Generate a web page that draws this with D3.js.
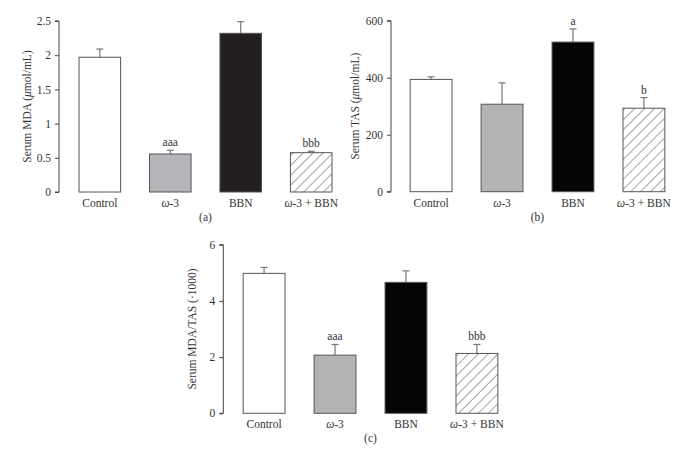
<!DOCTYPE html>
<html><head><meta charset="utf-8">
<script src="https://cdn.jsdelivr.net/npm/d3@7"></script>
<style>body{margin:0;background:#fff}svg{display:block}text{font-family:"Liberation Serif","DejaVu Serif",serif;fill:#333}</style>
</head><body>
<svg id="c" width="693" height="458"></svg>
<script>
const categories = ["Control", "ω-3", "BBN", "ω-3 + BBN"];
const mdaValues = [1.97, 0.555, 2.32, 0.575];
const mdaErrors = [2.09, 0.61, 2.49, 0.595];
const mdaMarks = ["", "aaa", "", "bbb"];
const mdaTicks = [0, 0.5, 1, 1.5, 2, 2.5];
const tasValues = [394, 307, 525, 293];
const tasErrors = [403, 382, 571, 330];
const tasMarks = ["", "", "a", "b"];
const tasTicks = [0, 200, 400, 600];
const ratioValues = [4.98, 2.07, 4.66, 2.13];
const ratioErrors = [5.19, 2.45, 5.07, 2.45];
const ratioMarks = ["", "aaa", "", "bbb"];
const ratioTicks = [0, 2, 4, 6];

const svg = d3.select("#c");
const defs = svg.append("defs");
const pat = defs.append("pattern").attr("id","hatch").attr("patternUnits","userSpaceOnUse")
  .attr("width",7).attr("height",7).attr("patternTransform","rotate(45)");
pat.append("rect").attr("width",7).attr("height",7).attr("fill","#fff");
pat.append("line").attr("x1",0).attr("y1",0).attr("x2",0).attr("y2",7).attr("stroke","#4a4a4a").attr("stroke-width",1);

function panel(o){
  const g = svg.append("g");
  const y = d3.scaleLinear().domain([0, o.max]).range([o.y0, o.y1]);
  const x = d3.scaleBand().domain(categories).range([o.xl, o.xr]).paddingInner(0.41).paddingOuter(0.27);
  const ax = g.append("g").attr("transform",`translate(${o.ax},0)`)
    .call(d3.axisLeft(y).tickValues(o.ticks).tickSize(4).tickPadding(4).tickFormat(d=>String(d)));
  ax.select(".domain").attr("stroke","#444").attr("d",`M-4,${o.y1}H0V${o.y0}H-4`);
  ax.selectAll(".tick line").attr("stroke","#444");
  ax.selectAll(".tick text").attr("font-size",11.5).attr("fill","#333").attr("font-family","Liberation Serif, serif");
  const fills = ["#ffffff", o.gray, o.black, "url(#hatch)"];
  g.selectAll(".err").data(o.values).join("g").each(function(d,i){
    const cx = x(categories[i]) + x.bandwidth()/2;
    const e = d3.select(this);
    e.append("line").attr("x1",cx).attr("x2",cx).attr("y1",y(d)).attr("y2",y(o.errors[i])).attr("stroke","#777").attr("stroke-width",1.2);
    e.append("line").attr("x1",cx-3.5).attr("x2",cx+3.5).attr("y1",y(o.errors[i])).attr("y2",y(o.errors[i])).attr("stroke","#777").attr("stroke-width",1.2);
  });
  g.selectAll(".bar").data(o.values).join("rect")
    .attr("x",(d,i)=>x(categories[i])).attr("width",x.bandwidth())
    .attr("y",d=>y(d)).attr("height",d=>y(0)-y(d))
    .attr("fill",(d,i)=>fills[i]).attr("stroke","#555").attr("stroke-width",1);
  g.selectAll(".mk").data(o.marks).join("text")
    .attr("x",(d,i)=>x(categories[i]) + x.bandwidth()/2)
    .attr("y",(d,i)=>y(o.errors[i]) - 4)
    .attr("text-anchor","middle").attr("font-size",11.5).text(d=>d);
  categories.forEach((c,i)=>{
    const t = g.append("text").attr("x",x(c)+x.bandwidth()/2).attr("y",o.y0+15).attr("text-anchor","middle").attr("font-size",11.5);
    if (c.startsWith("ω")) {
      t.append("tspan").attr("font-style","italic").text("ω");
      t.append("tspan").text(c.slice(1));
    } else t.text(c);
  });
  g.append("text").attr("transform",`translate(${o.lx},${(o.y0+o.y1)/2}) rotate(-90)`)
    .attr("text-anchor","middle").attr("font-size",11.5).call(t=>{
      o.label.forEach(p=>t.append("tspan").attr("font-style",p[1]?"italic":null).text(p[0]));
    });
  g.append("text").attr("x",(o.xl+o.xr)/2).attr("y",o.y0+29).attr("text-anchor","middle").attr("font-size",11.5).text(o.tag);
}

panel({values:mdaValues, errors:mdaErrors, marks:mdaMarks, ticks:mdaTicks, max:2.5,
  y0:192, y1:21, ax:59, xl:60, xr:351, lx:31, gray:"#b5b6ba", black:"#231f20",
  label:[["Serum MDA ("],["μ",1],["mol/mL)"]], tag:"(a)"});
panel({values:tasValues, errors:tasErrors, marks:tasMarks, ticks:tasTicks, max:600,
  y0:191.7, y1:20.7, ax:391, xl:391, xr:684, lx:359, gray:"#b3b3b3", black:"#050505",
  label:[["Serum TAS ("],["μ",1],["mol/mL)"]], tag:"(b)"});
panel({values:ratioValues, errors:ratioErrors, marks:ratioMarks, ticks:ratioTicks, max:6,
  y0:413.3, y1:244.7, ax:223.3, xl:224, xr:517, lx:196, gray:"#b3b3b3", black:"#050505",
  label:[["Serum MDA/TAS (·1000)"]], tag:"(c)"});
</script>
</body></html>
